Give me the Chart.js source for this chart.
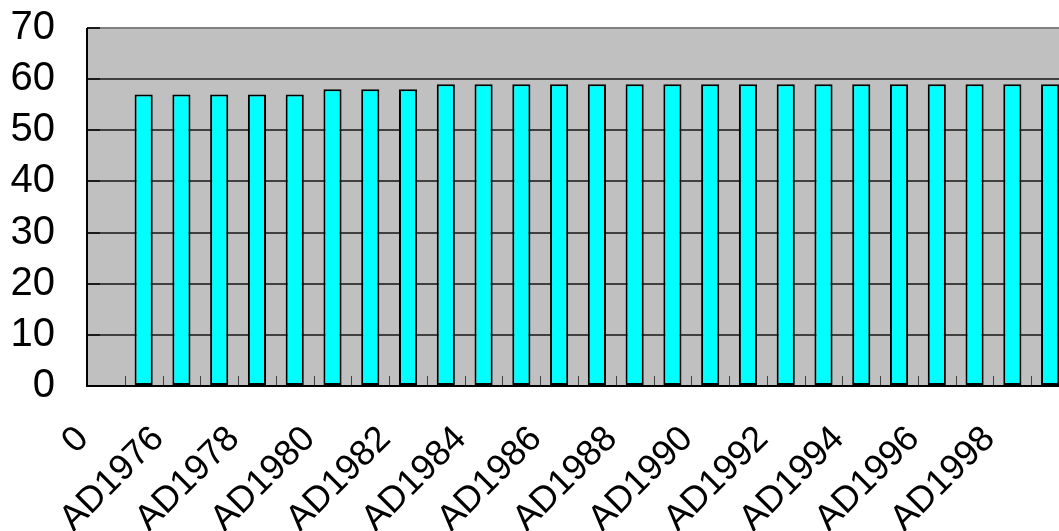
<!DOCTYPE html>
<html>
<head>
<meta charset="utf-8">
<script src="https://cdn.jsdelivr.net/npm/chart.js@4/dist/chart.umd.min.js"></script>
<style>
  html, body { margin: 0; padding: 0; background: #ffffff; overflow: hidden; }
  #wrap { width: 1069px; height: 531px; }
</style>
</head>
<body>
<div id="wrap"><canvas id="c" width="1069" height="531"></canvas></div>
<script>
// Categories along the x axis (first slot is an empty "0" category)
const categories = ["0",
  "AD1975", "AD1976", "AD1977", "AD1978", "AD1979", "AD1980", "AD1981", "AD1982",
  "AD1983", "AD1984", "AD1985", "AD1986", "AD1987", "AD1988", "AD1989", "AD1990",
  "AD1991", "AD1992", "AD1993", "AD1994", "AD1995", "AD1996", "AD1997", "AD1998", "AD1999"];

// Yearly values (none for the "0" slot)
const values = [null,
  57, 57, 57, 57, 57, 58, 58, 58,
  59, 59, 59, 59, 59, 59, 59, 59,
  59, 59, 59, 59, 59, 59, 59, 59, 59];

// Value axis ticks
const yTicks = [0, 10, 20, 30, 40, 50, 60, 70];

// Gray plot area, inward tick marks and axis lines
const plotDecor = {
  id: 'plotDecor',
  beforeDraw(chart) {
    const { ctx, chartArea: a } = chart;
    ctx.save();
    ctx.fillStyle = '#c0c0c0';
    ctx.fillRect(a.left, a.top, a.right - a.left, a.bottom - a.top);
    ctx.restore();
  },
  beforeDatasetsDraw(chart) {
    const { ctx, chartArea: a, scales } = chart;
    const x = scales.x, y = scales.y;
    ctx.save();
    // category boundary ticks pointing up into the plot
    ctx.strokeStyle = '#404040';
    ctx.lineWidth = 1;
    const n = categories.length;
    for (let i = 1; i < n; i++) {
      const px = Math.round((x.getPixelForValue(i - 1) + x.getPixelForValue(i)) / 2) + 0.5;
      ctx.beginPath();
      ctx.moveTo(px, a.bottom);
      ctx.lineTo(px, a.bottom - 10);
      ctx.stroke();
    }
    // value ticks pointing right into the plot
    ctx.strokeStyle = '#1a1a1a';
    ctx.lineWidth = 2;
    yTicks.forEach(v => {
      const py = Math.round(y.getPixelForValue(v));
      ctx.beginPath();
      ctx.moveTo(a.left, py);
      ctx.lineTo(a.left + 13, py);
      ctx.stroke();
    });
    ctx.restore();
  },
  afterDatasetsDraw(chart) {
    const { ctx, chartArea: a } = chart;
    ctx.save();
    ctx.strokeStyle = '#000000';
    ctx.lineWidth = 2;
    ctx.beginPath();
    ctx.moveTo(a.left, a.top);
    ctx.lineTo(a.left, a.bottom);
    ctx.lineTo(a.right, a.bottom);
    ctx.stroke();
    ctx.restore();
  }
};

new Chart(document.getElementById('c'), {
  type: 'bar',
  data: {
    labels: categories,
    datasets: [{
      data: values,
      backgroundColor: '#00ffff',
      borderColor: '#000000',
      borderWidth: 2,
      borderSkipped: false,
      categoryPercentage: 1.0,
      barPercentage: 0.48
    }]
  },
  options: {
    responsive: false,
    animation: false,
    devicePixelRatio: 1,
    layout: { padding: { top: 28, right: 0, left: 0, bottom: 0 } },
    plugins: { legend: { display: false }, tooltip: { enabled: false } },
    scales: {
      x: {
        grid: { display: false, drawTicks: false },
        border: { display: false },
        afterFit(scale) {
          scale.height = 145;
          scale.paddingLeft = 0;
          scale.paddingRight = 0;
        },
        ticks: {
          autoSkip: false,
          maxRotation: 45,
          minRotation: 45,
          padding: 32,
          labelOffset: -23,
          color: '#000000',
          font: { family: 'Liberation Sans, Arial, sans-serif', size: 36 },
          callback(value, index) { return index % 2 === 0 ? categories[index] : ''; }
        }
      },
      y: {
        min: 0,
        max: 70,
        afterFit(scale) {
          scale.width = 87;
          scale.paddingTop = 0;
          scale.paddingBottom = 0;
        },
        afterBuildTicks(scale) { scale.ticks = yTicks.map(v => ({ value: v })); },
        border: { display: false },
        grid: {
          drawTicks: false,
          lineWidth: 2,
          color(ctx) { return ctx.tick && ctx.tick.value === 70 ? '#808080' : '#404040'; }
        },
        ticks: {
          autoSkip: false,
          padding: 32,
          color: '#000000',
          font: { family: 'Liberation Sans, Arial, sans-serif', size: 40 }
        }
      }
    }
  },
  plugins: [plotDecor]
});
</script>
</body>
</html>
